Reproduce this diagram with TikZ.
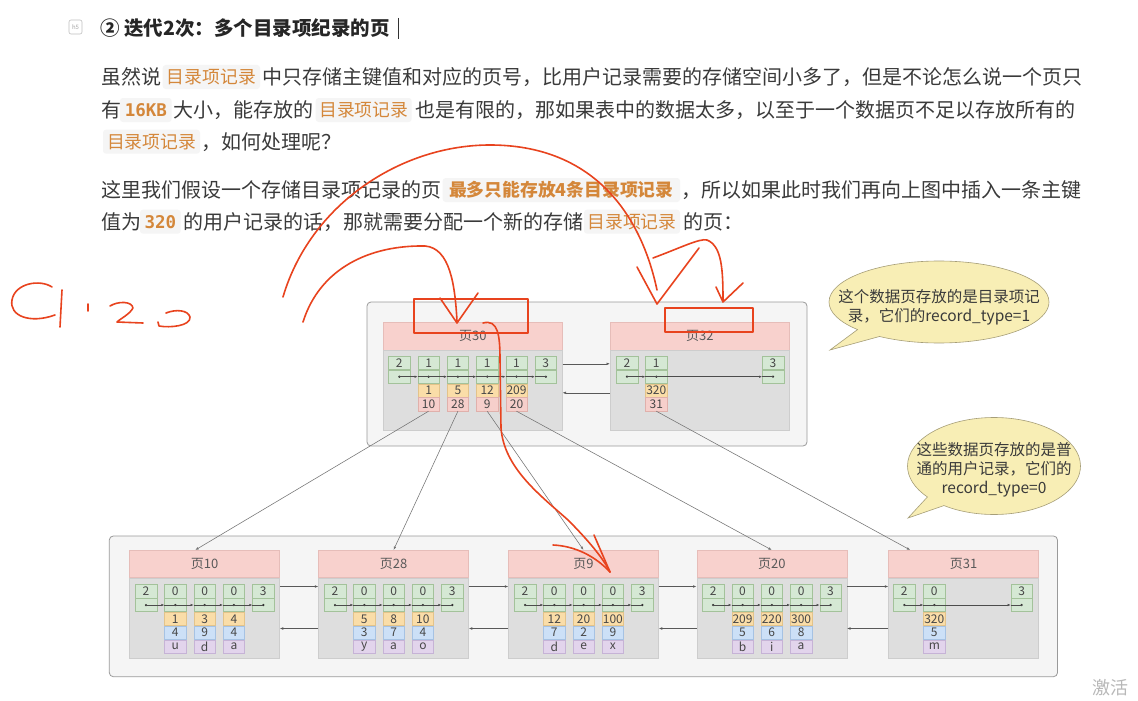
\documentclass[tikz,border=0pt]{standalone}
\usepackage{fontspec}
\setmainfont{Noto Sans CJK SC}
\newfontfamily\monof{DejaVu Sans Mono}
\usetikzlibrary{arrows.meta,shapes.callouts,calc}
\definecolor{txt}{HTML}{3A3A3A}
\definecolor{hlc}{HTML}{D4873A}
\definecolor{hlbg}{HTML}{F5F5F5}
\definecolor{redink}{HTML}{E8431E}
\definecolor{hdrfill}{HTML}{F8D1CD}
\definecolor{hdrdraw}{HTML}{E6BDB9}
\definecolor{bodyfill}{HTML}{DEDEDE}
\definecolor{bodydraw}{HTML}{CDCDCD}
\definecolor{gfill}{HTML}{D5E8D4}
\definecolor{gdraw}{HTML}{A3C29A}
\definecolor{ofill}{HTML}{FADDA8}
\definecolor{odraw}{HTML}{E3C38A}
\definecolor{pfill}{HTML}{F6CFCB}
\definecolor{pdraw}{HTML}{E0B0AB}
\definecolor{bfill}{HTML}{CCE0F7}
\definecolor{bdraw}{HTML}{A6C2E3}
\definecolor{vfill}{HTML}{E2D4EC}
\definecolor{vdraw}{HTML}{C6B3D6}
\definecolor{contfill}{HTML}{F5F5F5}
\definecolor{contdraw}{HTML}{9A9A9A}
\definecolor{bubfill}{HTML}{F8EEB5}
\definecolor{bubdraw}{HTML}{A69E78}
\tikzset{
  bodytext/.style={font=\fontsize{20}{24}\selectfont, text=txt, inner sep=0pt, anchor=base west},
  hltext/.style={font=\fontsize{17.8}{20}\selectfont, text=hlc, inner sep=0pt, anchor=base},
  hlbox/.style={fill=hlbg, rounded corners=3pt},
  cont/.style={fill=contfill, draw=contdraw, line width=0.8pt, rounded corners=4pt},
  hdr/.style={fill=hdrfill, draw=hdrdraw, line width=0.5pt, minimum height=27.3pt, inner sep=0pt, font=\fontsize{13}{14}\selectfont, text=black!65},
  pbody/.style={fill=bodyfill, draw=bodydraw, line width=0.5pt, minimum height=80pt, inner sep=0pt},
  cellbase/.style={minimum width=21.5pt, minimum height=13.3pt, inner sep=0pt, line width=0.5pt, font=\fontsize{12}{12}\selectfont, text=black!72},
  cellg/.style={cellbase, fill=gfill, draw=gdraw},
  cello/.style={cellbase, fill=ofill, draw=odraw},
  cellp/.style={cellbase, fill=pfill, draw=pdraw},
  cellb/.style={cellbase, fill=bfill, draw=bdraw},
  cellv/.style={cellbase, fill=vfill, draw=vdraw},
  dotc/.style={fill=black!80},
  lnk/.style={draw=black!70, line width=0.5pt},
  plink/.style={draw=black!65, line width=0.55pt, -{Latex[length=3.5pt,width=2.6pt]}},
  ptr/.style={draw=black!55, line width=0.55pt, -{Latex[length=3.5pt,width=2.6pt]}},
  bub/.style={ellipse callout, fill=bubfill, draw=bubdraw, line width=0.6pt, inner sep=0pt, callout pointer width=30pt},
  bubtext/.style={inner sep=0pt, align=center, font=\fontsize{15.5}{19}\selectfont, text=txt},
  redpen/.style={draw=redink, line width=1.6pt, line cap=round, line join=round},
}
\newcommand{\gcol}[4]{%
  \node[cellg, anchor=north west] (#1t) at (#2,#3) {#4};
  \node[cellg, anchor=north west] (#1m) at (#1t.south west) {};
  \fill[dotc] (#1m.center) circle (1.25pt);
}
\newcommand{\xcell}[4]{\node[#3, anchor=north west] (#1) at (#2.south west) {#4};}
\newcommand{\lnkc}[2]{%
  \draw[lnk, -{Latex[length=3pt,width=2.4pt]}] (#1.center) -- (#2.west);
  \draw[lnk] (#2.west) -- (#2.center);
}
\newcommand{\ucol}[5]{%
  \gcol{#1}{#2}{584.3}{0}
  \xcell{#1o}{#1m}{cello}{#3}
  \xcell{#1b}{#1o}{cellb}{#4}
  \xcell{#1v}{#1b}{cellv}{#5}
}
\newcommand{\dpage}[3]{%
  \node[hdr, minimum width=150pt, anchor=north west] (#1h) at (#2,550) {#3};
  \node[pbody, minimum width=150pt, anchor=north west] (#1b) at (#1h.south west) {};
}
\newcommand{\hlspan}[5]{%
  \fill[hlbox] (#2,#4-12) rectangle (#3,#4+12);
  \node[hltext] (#1) at ({(#2+#3)/2},#4+6.8) {#5};
}
\begin{document}
\begin{tikzpicture}[x=1pt,y=-1pt]
\useasboundingbox (0,0) rectangle (1138,701);
\fill[white] (0,0) rectangle (1138,701);

% ---------- header text ----------
\draw[black!25, line width=0.6pt, rounded corners=2pt] (69,20) rectangle (82,34);
\node[font=\fontsize{6}{6}\selectfont, text=black!35, inner sep=0pt] (icon) at (75.5,27) {h5};
\node[bodytext, font=\fontsize{19.5}{24}\bfseries\selectfont, text=black!85] (title) at (100,35.4) {② 迭代2次：多个目录项纪录的页};
\draw[black!80, line width=0.8pt] (398,18) -- (398,39);

% paragraph 1
\node[bodytext] (b1) at (101.7,84.6) {虽然说};
\hlspan{h1}{162.7}{260}{77}{目录项记录}
\node[bodytext] (b2) at (262.7,84.6) {中只存储主键值和对应的页号，比用户记录需要的存储空间小多了，但是不论怎么说一个页只};
\node[bodytext] (b3) at (101.7,117.6) {有};
\hlspan{h2}{120}{171.7}{110}{\monof\bfseries\fontsize{17.5}{20}\selectfont 16KB}
\node[bodytext] (b4) at (173.3,117.6) {大小，能存放的};
\hlspan{h3}{315.7}{411.7}{110}{目录项记录}
\node[bodytext] (b5) at (415,117.6) {也是有限的，那如果表中的数据太多，以至于一个数据页不足以存放所有的};
\hlspan{h4}{103}{200}{141.7}{目录项记录}
\node[bodytext] (b6) at (201,149.3) {，如何处理呢？};

% paragraph 2
\node[bodytext] (b7) at (101.7,197.6) {这里我们假设一个存储目录项记录的页};
\hlspan{h5}{442.7}{680}{190}{\bfseries 最多只能存放4条目录项记录}
\node[bodytext] (b8) at (681.7,197.6) {，所以如果此时我们再向上图中插入一条主键};
\node[bodytext] (b9) at (101.7,229.3) {值为};
\hlspan{h6}{140}{180.7}{221.7}{\monof\bfseries\fontsize{17.5}{20}\selectfont 320}
\node[bodytext] (b10) at (183.3,229.3) {的用户记录的话，那就需要分配一个新的存储};
\hlspan{h7}{584}{680}{221.7}{目录项记录}
\node[bodytext] (b11) at (683.3,229.3) {的页：};

% ---------- containers ----------
\draw[cont] (367,302) rectangle (807,446);
\draw[cont] (109.3,536) rectangle (1057.5,676.7);

% ---------- upper level: page 30 ----------
\node[hdr, minimum width=179pt, anchor=north west] (p30h) at (383,322.3) {页30};
\node[pbody, minimum width=179pt, anchor=north west] (p30b) at (p30h.south west) {};
\gcol{p30c1}{388.3}{356}{2}
\gcol{p30c2}{417.6}{356}{1}
\gcol{p30c3}{446.9}{356}{1}
\gcol{p30c4}{476.2}{356}{1}
\gcol{p30c5}{505.5}{356}{1}
\gcol{p30c6}{534.8}{356}{3}
\xcell{p30c2o}{p30c2m}{cello}{1}
\xcell{p30c2p}{p30c2o}{cellp}{10}
\xcell{p30c3o}{p30c3m}{cello}{5}
\xcell{p30c3p}{p30c3o}{cellp}{28}
\xcell{p30c4o}{p30c4m}{cello}{12}
\xcell{p30c4p}{p30c4o}{cellp}{9}
\xcell{p30c5o}{p30c5m}{cello}{209}
\xcell{p30c5p}{p30c5o}{cellp}{20}
\lnkc{p30c1m}{p30c2m}
\lnkc{p30c2m}{p30c3m}
\lnkc{p30c3m}{p30c4m}
\lnkc{p30c4m}{p30c5m}
\lnkc{p30c5m}{p30c6m}

% ---------- upper level: page 32 ----------
\node[hdr, minimum width=179pt, anchor=north west] (p32h) at (610,322.3) {页32};
\node[pbody, minimum width=179pt, anchor=north west] (p32b) at (p32h.south west) {};
\gcol{p32c1}{616}{356}{2}
\gcol{p32c2}{645.3}{356}{1}
\gcol{p32c3}{762}{356}{3}
\xcell{p32c2o}{p32c2m}{cello}{320}
\xcell{p32c2p}{p32c2o}{cellp}{31}
\lnkc{p32c1m}{p32c2m}
\lnkc{p32c2m}{p32c3m}

\draw[plink] ([yshift=-13.7pt]p30b.north east) -- ([yshift=-13.7pt]p32b.north west);
\draw[plink] ([yshift=-42.7pt]p32b.north west) -- ([yshift=-42.7pt]p30b.north east);

% ---------- lower level ----------
\dpage{p10}{129.3}{页10}
\dpage{p28}{318.3}{页28}
\dpage{p9}{508.3}{页9}
\dpage{p20}{696.5}{页20}
\dpage{p31}{888.3}{页31}

% page 10
\gcol{q10c1}{135}{584.3}{2}
\ucol{q10c2}{164.3}{1}{4}{u}
\ucol{q10c3}{193.6}{3}{9}{d}
\ucol{q10c4}{222.9}{4}{4}{a}
\gcol{q10c5}{252.3}{584.3}{3}
% page 28
\gcol{q28c1}{324}{584.3}{2}
\ucol{q28c2}{353.3}{5}{3}{y}
\ucol{q28c3}{382.6}{8}{7}{a}
\ucol{q28c4}{411.9}{10}{4}{o}
\gcol{q28c5}{441.3}{584.3}{3}
% page 9
\gcol{q9c1}{514}{584.3}{2}
\ucol{q9c2}{543.3}{12}{7}{d}
\ucol{q9c3}{572.6}{20}{2}{e}
\ucol{q9c4}{601.9}{100}{9}{x}
\gcol{q9c5}{631.3}{584.3}{3}
% page 20
\gcol{q20c1}{702.2}{584.3}{2}
\ucol{q20c2}{731.5}{209}{5}{b}
\ucol{q20c3}{760.8}{220}{6}{i}
\ucol{q20c4}{790.1}{300}{8}{a}
\gcol{q20c5}{819.5}{584.3}{3}
% page 31
\gcol{q31c1}{893.3}{584.3}{2}
\ucol{q31c2}{923.3}{320}{5}{m}
\gcol{q31c3}{1010.7}{584.3}{3}

\foreach \p in {q10,q28,q9,q20}{
  \lnkc{\p c1m}{\p c2m}
  \lnkc{\p c2m}{\p c3m}
  \lnkc{\p c3m}{\p c4m}
  \lnkc{\p c4m}{\p c5m}
}
\lnkc{q31c1m}{q31c2m}
\lnkc{q31c2m}{q31c3m}

\foreach \a/\b in {p10/p28,p28/p9,p9/p20,p20/p31}{
  \draw[plink] ([yshift=-8.7pt]\a b.north east) -- ([yshift=-8.7pt]\b b.north west);
  \draw[plink] ([yshift=-50.7pt]\b b.north west) -- ([yshift=-50.7pt]\a b.north east);
}

% ---------- pointers between levels ----------
\draw[ptr] (p30c2p.south) -- ([xshift=-9.3pt]p10h.north);
\draw[ptr] (p30c3p.south) -- (p28h.north);
\draw[ptr] (p30c4p.south) -- (p9h.north);
\draw[ptr] (p30c5p.south) -- (p20h.north);
\draw[ptr] (p32c2p.south) -- ([xshift=-53.3pt]p31h.north);

% ---------- speech bubbles ----------
\node[bub, minimum width=220pt, minimum height=82pt, callout absolute pointer={(830,350)}] (bub1) at (939,302) {};
\node[bubtext] (bub1t) at (939,307) {这个数据页存放的是目录项记\\录，它们的record\_type=1};
\node[bub, minimum width=173pt, minimum height=97pt, callout absolute pointer={(908,518)}] (bub2) at (994,466) {};
\node[bubtext] (bub2t) at (994,470) {这些数据页存放的是普\\通的用户记录，它们的\\record\_type=0};

% ---------- watermark ----------
\node[anchor=north west, inner sep=0pt, font=\fontsize{18}{18}\selectfont, text=black!28] (wm) at (1092,679) {激活};

% ---------- red hand annotations ----------
\draw[redpen] (414,299) rectangle (527.7,333);
\draw[redpen] (665,308) rectangle (753,331.7);
% big arc to page 32
\draw[redpen] (283,297) .. controls (310,205) and (400,145) .. (490,145) .. controls (590,145) and (640,210) .. (657,290);
\draw[redpen] (637,267) -- (657,304) -- (699,248);
\draw[redpen] (653,258) .. controls (680,248) and (700,238) .. (707,240) .. controls (722,246) and (723,270) .. (723,301);
\draw[redpen] (716,287) -- (723,302) -- (743,283);
% small arc to page 30
\draw[redpen] (303,322) .. controls (320,268) and (370,245) .. (425,246) .. controls (450,248) and (455,285) .. (457,321);
\draw[redpen] (440,298) -- (457,323) -- (478,293);
% curve down to page 9
\draw[redpen] (483,323) .. controls (498,319) and (500,335) .. (500,360) -- (501,428) .. controls (504,468) and (540,495) .. (568,520) .. controls (588,540) and (603,558) .. (610,572);
\draw[redpen] (553,545) .. controls (575,546) and (595,556) .. (610,572);
\draw[redpen] (594,535) -- (610,572);
% handwriting
\draw[redpen] (52,287) .. controls (40,279) and (15,283) .. (12,300) .. controls (9,316) and (30,324) .. (55,315);
\draw[redpen] (62,290) -- (60,327);
\draw[redpen] (88,304) -- (88,311);
\draw[redpen] (110,306) .. controls (118,301) and (132,301) .. (133,308) .. controls (130,314) and (120,319) .. (117,322) -- (143,323);
\draw[redpen] (166,313) .. controls (176,309) and (188,310) .. (190,317) .. controls (191,326) and (170,328) .. (159,326) -- (158,322);
\end{tikzpicture}
\end{document}
